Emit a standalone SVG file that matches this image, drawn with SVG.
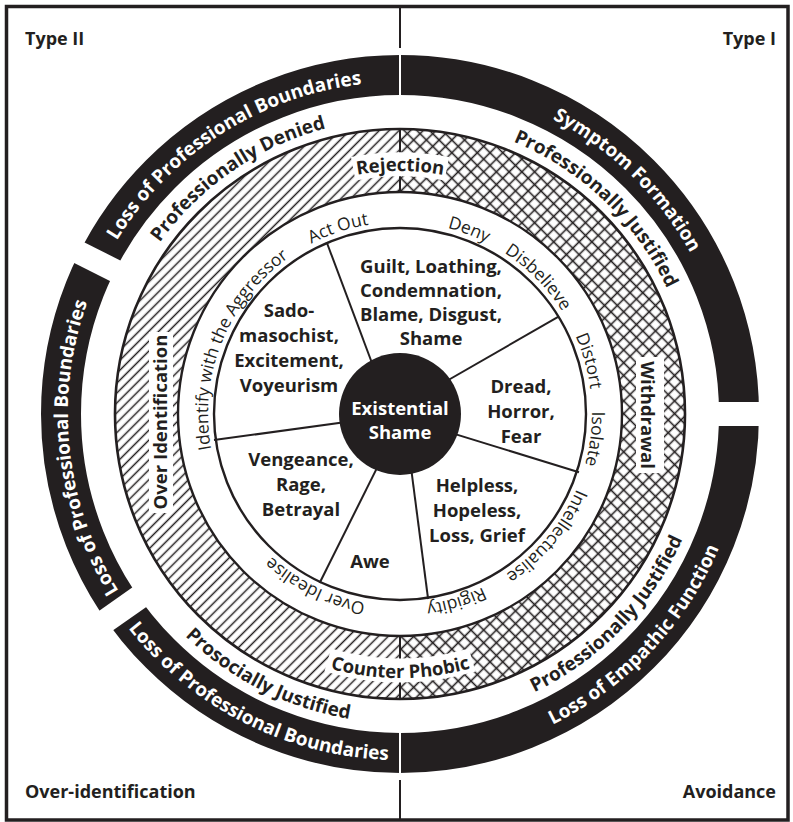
<svg xmlns="http://www.w3.org/2000/svg" xmlns:xlink="http://www.w3.org/1999/xlink" width="793" height="822" viewBox="0 0 793 822">
  <style>
    .ink { fill: #231f20; }
    .line { stroke: #231f20; fill: none; }
    .bold { font-family: "Open Sans", "Liberation Sans", sans-serif; font-weight: 700; }
    .light { font-family: "Open Sans", "Liberation Sans", sans-serif; font-weight: 400; font-size: 17.5px; fill: #231f20; }
    .corner { font-size: 18px; fill: #231f20; }
    .ring { font-size: 19px; }
    .onblack { fill: #ffffff; }
    .ongap { fill: #231f20; }
    .sector { font-size: 18.5px; fill: #231f20; text-anchor: middle; }
    .tag { font-size: 18.5px; fill: #231f20; text-anchor: middle; }
    .knock { fill: none; stroke: #ffffff; stroke-width: 24; }
  </style>
  <defs>
    <pattern id="diag" width="7" height="7" patternUnits="userSpaceOnUse" patternTransform="rotate(45)">
      <line x1="3.5" y1="0" x2="3.5" y2="7" stroke="#231f20" stroke-width="1.5"/>
    </pattern>
    <pattern id="cross" width="9" height="9" patternUnits="userSpaceOnUse" patternTransform="rotate(45)">
      <line x1="4.5" y1="0" x2="4.5" y2="9" stroke="#231f20" stroke-width="1.6"/>
      <line x1="0" y1="4.5" x2="9" y2="4.5" stroke="#231f20" stroke-width="1.6"/>
    </pattern>
    <!-- clockwise circles, glyph tops outward (start at bottom) -->
    <path id="cw192" d="M400,606 A192,192 0 1 1 400,222 A192,192 0 1 1 400,606"/>
    <path id="cw243" d="M400,657 A243,243 0 1 1 400,171 A243,243 0 1 1 400,657"/>
    <path id="cw295" d="M400,709 A295,295 0 1 1 400,119 A295,295 0 1 1 400,709"/>
    <path id="cw332" d="M400,746 A332,332 0 1 1 400,82 A332,332 0 1 1 400,746"/>
    <!-- counter-clockwise circles, glyph tops inward (start at top) -->
    <path id="ccw264" d="M400,150 A264,264 0 1 0 400,678 A264,264 0 1 0 400,150"/>
    <path id="ccw309" d="M400,105 A309,309 0 1 0 400,723 A309,309 0 1 0 400,105"/>
    <path id="ccw346" d="M400,68 A346,346 0 1 0 400,760 A346,346 0 1 0 400,68"/>
  </defs>

  <!-- frame and quadrant divider -->
  <rect x="0" y="0" width="793" height="822" fill="#ffffff"/>
  <rect x="6.5" y="6.5" width="781.5" height="813.5" fill="none" stroke="#231f20" stroke-width="3.5"/>
  <line class="line" x1="400" y1="6" x2="400" y2="820" stroke-width="2"/>

  <!-- outer black band with its breaks -->
  <g id="outer-band">
    <circle cx="400" cy="414" r="339" fill="#ffffff" stroke="#231f20" stroke-width="40"/>
    <rect x="399" y="48" width="2" height="52" fill="#ffffff"/>
    <rect x="399" y="728" width="2" height="52" fill="#ffffff"/>
    <rect x="700" y="402" width="70" height="24" fill="#ffffff"/>
    <rect x="305" y="-11.5" width="65" height="23" fill="#ffffff" transform="translate(400,414) rotate(-153.3)"/>
    <rect x="305" y="-12" width="65" height="24" fill="#ffffff" transform="translate(400,414) rotate(-215.1)"/>
  </g>

  <!-- hatched band -->
  <g id="hatched-band">
    <path d="M400,129 A285,285 0 0 0 400,699 L400,636 A222,222 0 0 1 400,192 Z" fill="url(#diag)"/>
    <path d="M400,129 A285,285 0 0 1 400,699 L400,636 A222,222 0 0 0 400,192 Z" fill="url(#cross)"/>
    <line class="line" x1="400" y1="129" x2="400" y2="192" stroke-width="2"/>
    <line class="line" x1="400" y1="636" x2="400" y2="699" stroke-width="2"/>
    <!-- white knock-outs behind the band labels -->
    <path class="knock" d="M353.2,168.7 A250,250 0 0 1 446.8,168.7"/>
    <path class="knock" d="M327.8,660 A257,257 0 0 0 472.2,660"/>
    <rect x="149" y="332" width="24" height="181" fill="#ffffff"/>
    <rect x="636" y="357" width="28" height="116" fill="#ffffff"/>
    <circle class="line" cx="400" cy="414" r="285" stroke-width="2.6"/>
    <circle class="line" cx="400" cy="414" r="222" stroke-width="2.4"/>
  </g>

  <!-- sector wheel -->
  <g id="connectors">
    <line class="line" stroke-width="2" x1="326.6" y1="242" x2="378" y2="379"/>
    <line class="line" stroke-width="2" x1="559" y1="316.4" x2="432.7" y2="389"/>
    <line class="line" stroke-width="2" x1="579" y1="472.3" x2="438.9" y2="429.1"/>
    <line class="line" stroke-width="2" x1="428.1" y1="599" x2="409.4" y2="455.2"/>
    <line class="line" stroke-width="2" x1="319.6" y1="583" x2="383.9" y2="454.1"/>
    <line class="line" stroke-width="2" x1="214" y1="440.1" x2="358.8" y2="420.3"/>
  </g>
  <circle class="line" cx="400" cy="414" r="186" stroke-width="2.4"/>

  <g id="center">
    <circle class="ink" cx="400" cy="414" r="61"/>
    <text class="bold sector" style="fill:#ffffff" font-size="19"><tspan x="400" y="415">Existential</tspan><tspan x="400" y="439">Shame</tspan></text>
  </g>

  <g id="sector-guilt">
    <text class="bold sector"><tspan x="431" y="273">Guilt, Loathing,</tspan><tspan x="431" y="297">Condemnation,</tspan><tspan x="431" y="321">Blame, Disgust,</tspan><tspan x="431" y="345">Shame</tspan></text>
  </g>
  <g id="sector-sado">
    <text class="bold sector"><tspan x="289" y="317">Sado-</tspan><tspan x="289" y="342">masochist,</tspan><tspan x="289" y="367">Excitement,</tspan><tspan x="289" y="392">Voyeurism</tspan></text>
  </g>
  <g id="sector-dread">
    <text class="bold sector"><tspan x="521" y="393">Dread,</tspan><tspan x="521" y="418">Horror,</tspan><tspan x="521" y="443">Fear</tspan></text>
  </g>
  <g id="sector-helpless">
    <text class="bold sector"><tspan x="477" y="492">Helpless,</tspan><tspan x="477" y="517">Hopeless,</tspan><tspan x="477" y="542">Loss, Grief</tspan></text>
  </g>
  <g id="sector-vengeance">
    <text class="bold sector"><tspan x="301" y="466">Vengeance,</tspan><tspan x="301" y="491">Rage,</tspan><tspan x="301" y="516">Betrayal</tspan></text>
  </g>
  <g id="sector-awe">
    <text class="bold sector" x="370" y="568">Awe</text>
  </g>

  <!-- defence labels round the wheel -->
  <g id="defences" class="light" text-anchor="middle">
    <text><textPath xlink:href="#cw192" startOffset="541.2">Act Out</textPath></text>
    <text><textPath xlink:href="#cw192" startOffset="671.9">Deny</textPath></text>
    <text><textPath xlink:href="#cw192" startOffset="754.6">Disbelieve</textPath></text>
    <text><textPath xlink:href="#cw192" startOffset="851.8">Distort</textPath></text>
    <text><textPath xlink:href="#cw192" startOffset="928.9">Isolate</textPath></text>
    <text><textPath xlink:href="#cw192" startOffset="1037.8">Intellectualise</textPath></text>
    <text><textPath xlink:href="#cw192" startOffset="1149.7">Rigidity</textPath></text>
    <text><textPath xlink:href="#cw192" startOffset="87.8">Over Idealise</textPath></text>
    <text><textPath xlink:href="#cw192" startOffset="375.3">Identify with the Aggressor</textPath></text>
  </g>

  <!-- labels on the hatched band -->
  <g id="hatched-labels" class="bold">
    <text class="tag"><textPath xlink:href="#cw243" startOffset="763.4">Rejection</textPath></text>
    <text class="tag"><textPath xlink:href="#ccw264" startOffset="829.4">Counter Phobic</textPath></text>
    <text class="tag" transform="translate(167,422) rotate(-90)" x="0" y="0">Over Identification</text>
    <text class="tag" transform="translate(641,415) rotate(90)" x="0" y="0">Withdrawal</text>
  </g>

  <!-- labels between hatched band and black band -->
  <g id="justification-labels" class="bold ring ongap" text-anchor="middle">
    <text><textPath xlink:href="#cw295" startOffset="749.1">Professionally Denied</textPath></text>
    <text><textPath xlink:href="#cw295" startOffset="1151.5">Professionally Justified</textPath></text>
    <text><textPath xlink:href="#ccw309" startOffset="826">Prosocially Justified</textPath></text>
    <text><textPath xlink:href="#ccw309" startOffset="1218">Professionally Justified</textPath></text>
  </g>

  <!-- labels on the black band -->
  <g id="band-labels" class="bold ring onblack" text-anchor="middle">
    <text><textPath xlink:href="#cw332" startOffset="854.1">Loss of Professional Boundaries</textPath></text>
    <text><textPath xlink:href="#cw332" startOffset="1298.8">Symptom Formation</textPath></text>
    <text><textPath xlink:href="#cw332" startOffset="485.3">Loss of Professional Boundaries</textPath></text>
    <text><textPath xlink:href="#ccw346" startOffset="924.5">Loss of Professional Boundaries</textPath></text>
    <text><textPath xlink:href="#ccw346" startOffset="1368.4">Loss of Empathic Function</textPath></text>
  </g>

  <!-- quadrant titles -->
  <g id="quadrant-titles" class="bold corner">
    <text x="25" y="45">Type II</text>
    <text x="776" y="45" text-anchor="end">Type I</text>
    <text x="25" y="798">Over-identification</text>
    <text x="776" y="798" text-anchor="end">Avoidance</text>
  </g>
</svg>
